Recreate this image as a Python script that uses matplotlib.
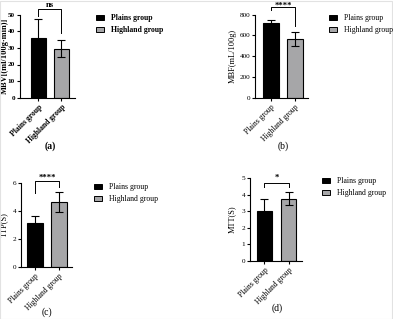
import numpy as np
import matplotlib
matplotlib.use('Agg')
import matplotlib.pyplot as plt
from matplotlib.patches import Patch, Rectangle

# === Data ===
groups = ['Plains group', 'Highland group']

mbv_mean = [36.0, 29.5]
mbv_sd = [11.5, 5.0]
mbf_mean = [720, 565]
mbf_sd = [30, 65]
ttp_mean = [3.15, 4.65]
ttp_sd = [0.5, 0.75]
mtt_mean = [3.0, 3.75]
mtt_sd = [0.75, 0.4]

ylabels = ['MBV[(ml/100g\u00b7min)]', 'MBF(mL/100g)', 'TTP(S)', 'MTT(S)']
yticks = [[0, 10, 20, 30, 40, 50], [0, 200, 400, 600, 800],
          [0, 2, 4, 6], [0, 1, 2, 3, 4, 5]]
sig_text = ['ns', '****', '****', '*']
# bracket: top, left leg bottom, right leg bottom
brackets = [(53.2, 49.0, 38.8), (870, 845, 690), (6.19, 5.3, 5.76), (4.74, 4.45, 4.5)]
panel_tags = ['(a)', '(b)', '(c)', '(d)']

# === Layout (pixels) ===
W, H = 393, 319
DPI = 100
COLOR_PLAINS = 'black'
COLOR_HIGH = '#a6a6a8'

# left, right, top, bottom of each axes in pixels, plus xlim
axes_px = [(20, 75, 14.7, 97.7, (-0.80, 1.59)),
           (255, 308, 14.7, 97.7, (-0.67, 1.54)),
           (21, 72, 183.3, 266.7, (-0.58, 1.54)),
           (250, 302, 178.3, 260.7, (-0.60, 1.56))]
legend_px = [(96, 14), (329, 14), (94, 183), (322, 177)]
tag_px = [(50, 146), (283, 146), (47, 312), (277, 308)]
ylab_px = [9, 237, 8, 236]      # right edge of the rotated y label
sig_off = [3.0, 1.0, 2.3, 3.5]  # points above the bracket

means = [mbv_mean, mbf_mean, ttp_mean, mtt_mean]
sds = [mbv_sd, mbf_sd, ttp_sd, mtt_sd]

plt.rcParams['font.family'] = ['Liberation Serif', 'DejaVu Serif']

fig = plt.figure(figsize=(W / DPI, H / DPI), dpi=DPI)
fig.patch.set_facecolor('white')

# faint frame around the figure
fig.patches.append(Rectangle((0.001, 0.001), 0.997, 0.997, transform=fig.transFigure,
                             fill=False, edgecolor='#e2e2e2', linewidth=0.8))

x = np.arange(2)
for i in range(4):
    l, r, t, b, xl = axes_px[i]
    ax = fig.add_axes([l / W, 1 - b / H, (r - l) / W, (b - t) / H])
    weight = 'bold' if i == 0 else 'normal'

    ax.bar(x, means[i], width=0.66, color=[COLOR_PLAINS, COLOR_HIGH],
           edgecolor='black', linewidth=0.8, zorder=2)
    ax.errorbar(x, means[i], yerr=sds[i], fmt='none', ecolor='black',
                elinewidth=0.8, capsize=3.0, capthick=0.8, zorder=3)

    ax.set_xlim(*xl)
    ax.set_ylim(0, yticks[i][-1])
    ax.set_yticks(yticks[i])
    ax.set_xticks(x)
    ax.set_xticklabels(groups, rotation=45, ha='right', rotation_mode='anchor',
                       fontsize=5.5, fontweight=weight)
    ax.tick_params(axis='y', labelsize=5.2, length=2.5, width=0.8, pad=1)
    ax.tick_params(axis='x', length=2.5, width=0.8, pad=1.5)
    for lab in ax.get_yticklabels():
        lab.set_fontweight(weight)
    for s in ['top', 'right']:
        ax.spines[s].set_visible(False)
    for s in ['left', 'bottom']:
        ax.spines[s].set_linewidth(0.8)

    ax.set_ylabel(ylabels[i], fontsize=6, fontweight=weight)
    ax.yaxis.set_label_coords((ylab_px[i] - l) / (r - l), 0.5)

    # significance bracket
    top, lb, rb = brackets[i]
    ax.plot([0, 0, 1, 1], [lb, top, top, rb], color='black', linewidth=0.7,
            clip_on=False, zorder=4)
    ax.annotate(sig_text[i], xy=(0.5, top), xytext=(0, sig_off[i]),
                textcoords='offset points', ha='center', va='center',
                fontsize=6.2, fontweight='bold', annotation_clip=False)

    # legend
    handles = [Patch(facecolor=COLOR_PLAINS, edgecolor='black', linewidth=0.7),
               Patch(facecolor=COLOR_HIGH, edgecolor='black', linewidth=0.7)]
    lx, ly = legend_px[i]
    fig.legend(handles, groups, loc='upper left',
               bbox_to_anchor=(lx / W, 1 - ly / H), frameon=False,
               prop={'size': 5.6, 'weight': 'bold' if i == 0 else 'normal'},
               handlelength=1.0, handleheight=0.6, handletextpad=0.9,
               labelspacing=0.55, borderpad=0, borderaxespad=0)

    tx, ty = tag_px[i]
    fig.text(tx / W, 1 - ty / H, panel_tags[i], ha='center', va='center',
             fontsize=7, fontweight=weight)

fig.savefig('out.png', dpi=DPI, facecolor='white')
